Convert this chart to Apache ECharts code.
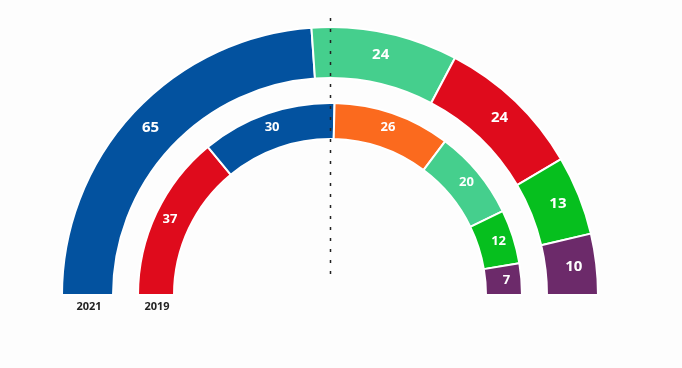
<!DOCTYPE html>
<html><head><meta charset="utf-8">
<script src="https://cdn.jsdelivr.net/npm/echarts@6/dist/echarts.min.js"></script>
<style>html,body{margin:0;padding:0;background:#fdfdfd}#c{width:682px;height:368px}</style>
</head><body><div id="c"></div>
<script>
const years = ['2021', '2019'];
const parties2021 = ['Blue', 'LightGreen', 'Red', 'Green', 'Purple'];
const seats2021 = [65, 24, 24, 13, 10];
const colors2021 = ['#03529f', '#45cf8d', '#df0b1c', '#06bf1e', '#6c2a6a'];
const parties2019 = ['Red', 'Blue', 'Orange', 'LightGreen', 'Green', 'Purple'];
const seats2019 = [37, 30, 26, 20, 12, 7];
const colors2019 = ['#df0b1c', '#03529f', '#fb6a1e', '#45cf8d', '#06bf1e', '#6c2a6a'];

const cx = 330, cy = 295;
function mk(names, vals, cols) {
  return names.map((n, i) => ({ name: n, value: vals[i], itemStyle: { color: cols[i] } }));
}
const chart = echarts.init(document.getElementById('c'));
chart.setOption({
  backgroundColor: '#fdfdfd',
  animation: false,
  series: [
    {
      type: 'pie', center: [cx, cy], radius: [217, 268], startAngle: 180, endAngle: 0,
      clockwise: true, silent: true,
      itemStyle: { borderColor: '#ffffff', borderWidth: 2 },
      label: { show: true, position: 'inside', formatter: '{c}', color: '#fff', fontFamily: 'Open Sans', fontWeight: 'bold', fontSize: 15 },
      labelLine: { show: false },
      data: mk(parties2021, seats2021, colors2021)
    },
    {
      type: 'pie', center: [cx, cy], radius: [156, 192], startAngle: 180, endAngle: 0,
      clockwise: true, silent: true,
      itemStyle: { borderColor: '#ffffff', borderWidth: 2 },
      label: { show: true, position: 'inside', formatter: '{c}', color: '#fff', fontFamily: 'Open Sans', fontWeight: 'bold', fontSize: 13 },
      labelLine: { show: false },
      data: mk(parties2019, seats2019, colors2019)
    }
  ],
  graphic: [
    { type: 'line', z: 100, shape: { x1: 330.5, y1: 18, x2: 330.5, y2: 274 }, style: { stroke: '#222', lineWidth: 1.5, lineDash: [3, 8] } },
    { type: 'text', x: 89, y: 307, style: { text: years[0], fill: '#222', font: 'bold 11px "Open Sans"', align: 'center', verticalAlign: 'middle' } },
    { type: 'text', x: 157, y: 307, style: { text: years[1], fill: '#222', font: 'bold 11px "Open Sans"', align: 'center', verticalAlign: 'middle' } }
  ]
});
</script></body></html>
